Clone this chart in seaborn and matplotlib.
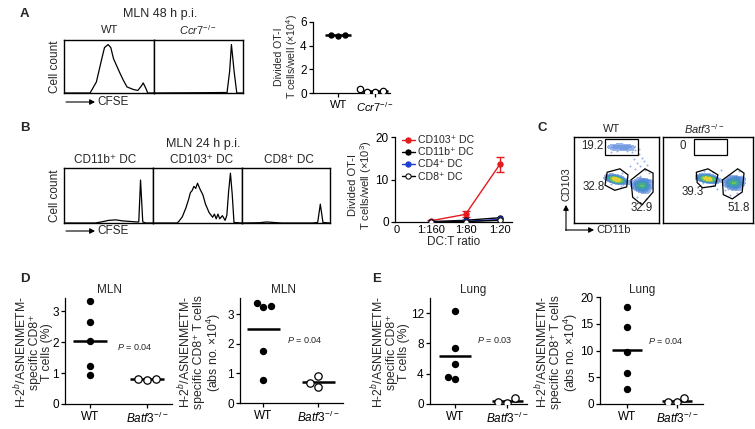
import numpy as np
import pandas as pd
import seaborn as sns
import matplotlib
matplotlib.use("Agg")
import matplotlib.pyplot as plt
from matplotlib.colors import LinearSegmentedColormap
from matplotlib.patches import Polygon, Rectangle

sns.set_style("ticks")
plt.rcParams["font.family"] = ["Liberation Sans", "DejaVu Sans"]
plt.rcParams.update({
    "mathtext.fontset": "custom", "mathtext.rm": "Liberation Sans",
    "mathtext.it": "Liberation Sans:italic", "mathtext.bf": "Liberation Sans:bold",
    "axes.linewidth": 0.9, "xtick.major.width": 0.9, "ytick.major.width": 0.9,
    "xtick.major.size": 3, "ytick.major.size": 3, "xtick.labelsize": 8.5,
    "ytick.labelsize": 8.5, "xtick.major.pad": 2, "ytick.major.pad": 1.5,
    "axes.edgecolor": "black", "xtick.color": "black", "ytick.color": "black",
})

# ---------------- DATA ----------------
# Panel A histograms (CFSE, normalised channel / count)
a_wt_x = [0.0, 0.29, 0.36, 0.42, 0.45, 0.49, 0.52, 0.55, 0.58, 0.62, 0.66, 0.70, 0.77, 0.82, 0.86, 0.88, 0.91, 0.93, 1.0]
a_wt_y = [0, 0, 0.22, 0.68, 0.90, 0.96, 0.90, 0.68, 0.56, 0.40, 0.25, 0.12, 0.07, 0.05, 0.14, 0.20, 0.09, 0, 0]
a_ko_x = [0.0, 0.5, 0.8, 0.82, 0.85, 0.87, 0.90, 0.93, 1.0]
a_ko_y = [0, 0.005, 0.01, 0, 0.43, 0.96, 0.43, 0, 0]

# Panel A dot plot
a_groups = ["WT", "Ccr7"]
a_wt_vals = [4.9, 4.85, 4.9]
a_ko_vals = [0.15, 0.05, 0.05, 0.3]

# Panel B histograms
b_cd11b_x = [0, 0.35, 0.42, 0.5, 0.58, 0.66, 0.74, 0.82, 0.84, 0.86, 0.885, 0.92, 1.0]
b_cd11b_y = [0, 0, 0.02, 0.05, 0.06, 0.04, 0.03, 0.02, 0.02, 0.82, 0.02, 0, 0]
b_cd103_x = [0, 0.27, 0.29, 0.33, 0.37, 0.40, 0.42, 0.44, 0.46, 0.48, 0.50, 0.53, 0.56, 0.59, 0.63,
             0.67, 0.69, 0.71, 0.73, 0.75, 0.78, 0.81, 0.83, 0.85, 0.87, 0.89, 0.91, 1.0]
b_cd103_y = [0, 0, 0.03, 0.12, 0.29, 0.45, 0.58, 0.62, 0.70, 0.66, 0.76, 0.64, 0.54, 0.36, 0.20,
             0.11, 0.17, 0.08, 0.17, 0.08, 0.14, 0.05, 0.15, 0.61, 0.95, 0.55, 0.01, 0]
b_cd8_x = [0, 0.2, 0.28, 0.36, 0.45, 0.8, 0.86, 0.89, 0.92, 1.0]
b_cd8_y = [0, 0.005, 0.02, 0.01, 0, 0, 0.01, 0.36, 0.01, 0]

# Panel B line chart
ratio_labels = ["0", "1:160", "1:80", "1:20"]
ratio_pos = [1, 2, 3]
cd103_vals = [0.3, 1.8, 13.6]
cd103_err = [0.2, 0.7, 1.8]
cd11b_vals = [0.1, 0.4, 1.0]
cd4_vals = [0.0, 0.15, 0.6]
cd8_vals = [0.0, 0.1, 0.4]

# Panel C gates (fraction of plot) and frequencies
c_wt_rect = (0.365, 0.79, 0.388, 0.187)
c_wt_poly1 = [(0.39, 0.59), (0.54, 0.63), (0.635, 0.56), (0.62, 0.42), (0.48, 0.38), (0.365, 0.44)]
c_wt_poly2 = [(0.67, 0.50), (0.835, 0.63), (0.93, 0.58), (0.93, 0.36), (0.80, 0.21), (0.69, 0.30)]
c_ko_rect = (0.344, 0.79, 0.367, 0.187)
c_ko_poly1 = [(0.37, 0.59), (0.50, 0.63), (0.61, 0.56), (0.58, 0.43), (0.44, 0.41), (0.38, 0.47)]
c_ko_poly2 = [(0.66, 0.50), (0.83, 0.63), (0.90, 0.58), (0.88, 0.36), (0.77, 0.28), (0.67, 0.33)]
c_wt_freq = ["19.2", "32.8", "32.9"]
c_ko_freq = ["0", "39.3", "51.8"]
# dense events (cores)
c_wt_core_x = [0.47, 0.49, 0.51, 0.50, 0.48, 0.52, 0.50, 0.46, 0.53, 0.49, 0.51, 0.50,
               0.79, 0.81, 0.80, 0.82, 0.78, 0.80, 0.83, 0.79, 0.81, 0.77, 0.84, 0.80]
c_wt_core_y = [0.51, 0.50, 0.52, 0.49, 0.53, 0.51, 0.47, 0.49, 0.50, 0.52, 0.48, 0.55,
               0.43, 0.45, 0.41, 0.46, 0.44, 0.47, 0.49, 0.39, 0.43, 0.40, 0.50, 0.36]
c_wt_top_x = [0.44, 0.48, 0.52, 0.56, 0.60, 0.64, 0.68, 0.50, 0.54, 0.58, 0.62, 0.46, 0.66]
c_wt_top_y = [0.88, 0.87, 0.89, 0.88, 0.87, 0.89, 0.88, 0.85, 0.91, 0.86, 0.90, 0.90, 0.85]
# diffuse events
c_wt_sparse_x = [0.42, 0.45, 0.48, 0.51, 0.54, 0.57, 0.60, 0.63, 0.66, 0.69, 0.44, 0.50, 0.56, 0.62,
                 0.68, 0.72, 0.76, 0.80, 0.70, 0.74, 0.78, 0.82, 0.86, 0.66, 0.72, 0.84, 0.88, 0.76,
                 0.41, 0.44, 0.56, 0.58, 0.43, 0.55, 0.72, 0.75, 0.86, 0.88, 0.90, 0.74, 0.85, 0.78]
c_wt_sparse_y = [0.88, 0.86, 0.90, 0.87, 0.89, 0.86, 0.88, 0.91, 0.87, 0.89, 0.83, 0.84, 0.92, 0.84,
                 0.82, 0.85, 0.80, 0.76, 0.74, 0.70, 0.66, 0.72, 0.68, 0.66, 0.63, 0.62, 0.58, 0.86,
                 0.52, 0.45, 0.58, 0.46, 0.57, 0.43, 0.42, 0.52, 0.36, 0.44, 0.50, 0.30, 0.28, 0.55]
c_ko_core_x = [0.47, 0.49, 0.51, 0.50, 0.48, 0.52, 0.50, 0.46, 0.53, 0.49, 0.51, 0.50,
               0.78, 0.80, 0.79, 0.81, 0.77, 0.79, 0.82, 0.78, 0.80, 0.76, 0.83, 0.79]
c_ko_core_y = [0.52, 0.51, 0.53, 0.50, 0.54, 0.52, 0.48, 0.50, 0.51, 0.53, 0.49, 0.56,
               0.46, 0.48, 0.44, 0.49, 0.47, 0.50, 0.52, 0.42, 0.46, 0.43, 0.53, 0.39]
c_ko_sparse_x = [0.41, 0.44, 0.56, 0.58, 0.43, 0.55, 0.60, 0.64, 0.72, 0.75, 0.86, 0.87, 0.74,
                 0.85, 0.70, 0.88, 0.45, 0.53, 0.82, 0.69]
c_ko_sparse_y = [0.53, 0.46, 0.59, 0.47, 0.58, 0.44, 0.40, 0.62, 0.40, 0.55, 0.40, 0.55, 0.33,
                 0.60, 0.45, 0.47, 0.60, 0.43, 0.35, 0.38]

# Panels D and E
groups = ["WT", "Batf3"]
d1_wt = [3.33, 2.66, 2.04, 1.21, 0.93]
d1_ko = [0.82, 0.79, 0.82]
d2_wt = [3.37, 3.24, 3.26, 1.75, 0.78]
d2_ko = [0.92, 0.54, 0.67]
e1_wt = [12.3, 7.36, 5.3, 3.26, 3.6]
e1_ko = [0.75, 0.18, 0.3]
e2_wt = [18.1, 14.3, 9.8, 5.75, 2.8]
e2_ko = [1.2, 0.3, 0.45]

# ---------------- LAYOUT HELPERS ----------------
W, H = 755, 429
fig = plt.figure(figsize=(W / 100, H / 100), dpi=100)


def box(x0, y0, x1, y1):
    return [x0 / W, 1 - y1 / H, (x1 - x0) / W, (y1 - y0) / H]


def txt(x, y, s, **kw):
    kw.setdefault("fontsize", 8.5)
    kw.setdefault("ha", "center")
    kw.setdefault("va", "center")
    fig.text(x / W, 1 - y / H, s, **kw)


def arrow(x0, y0, x1, y1):
    fig.add_artist(matplotlib.patches.FancyArrowPatch(
        (x0 / W, 1 - y0 / H), (x1 / W, 1 - y1 / H), transform=fig.transFigure,
        arrowstyle="-|>,head_length=3,head_width=1.6", lw=0.8, color="black",
        shrinkA=0, shrinkB=0))


def hist_ax(rect, xs, ys):
    ax = fig.add_axes(box(*rect))
    sns.lineplot(x=xs, y=ys, ax=ax, color="black", lw=0.9, sort=False, estimator=None)
    ax.set_xlim(0, 1)
    ax.set_ylim(0, 1.05)
    ax.set_xticks([])
    ax.set_yticks([])
    ax.set_xlabel("")
    ax.set_ylabel("")
    for s in ax.spines.values():
        s.set_visible(True)
        s.set_linewidth(1.0)
    return ax


def dot_ax(rect, wt, ko, labels, ylim, yticks, xlim, half=0.3, size=5.3):
    ax = fig.add_axes(box(*rect))
    df_wt = pd.DataFrame({"g": labels[0], "v": wt})
    df_ko = pd.DataFrame({"g": labels[1], "v": ko})
    sns.swarmplot(data=df_wt, x="g", y="v", order=labels, color="black", size=size, ax=ax)
    sns.swarmplot(data=df_ko, x="g", y="v", order=labels, color="white", edgecolor="black",
                  linewidth=0.9, size=size, ax=ax)
    for i, vals in enumerate([wt, ko]):
        ax.hlines(np.mean(vals), i - half, i + half, color="black", lw=1.8, zorder=1)
    ax.set_ylim(*ylim)
    ax.set_yticks(yticks)
    ax.set_xlim(*xlim)
    ax.set_xlabel("")
    ax.set_ylabel("")
    sns.despine(ax=ax)
    return ax


# ---------------- PANEL A ----------------
txt(20, 14, "A", fontsize=9.5, fontweight="bold", ha="left")
txt(160, 14, "MLN 48 h p.i.", fontsize=9)
txt(110, 30, "WT", fontsize=8)
txt(198, 30, r"$\mathit{Ccr7}^{-/-}$", fontsize=8)
hist_ax((64, 40, 154, 93), a_wt_x, a_wt_y)
hist_ax((154, 40, 243, 93), a_ko_x, a_ko_y)
txt(55, 67, "Cell count", rotation=90)
arrow(66, 102, 95, 102)
txt(97, 102, "CFSE", ha="left")

axA = dot_ax((313, 22, 390, 93), a_wt_vals, a_ko_vals, a_groups, (0, 6), [0, 2, 4, 6],
             (-0.68, 1.4), half=0.35, size=4.6)
axA.set_xticks([0, 1])
axA.set_xticklabels(["WT", r"$\mathit{Ccr7}^{-/-}$"], fontsize=8)
txt(287, 57, "Divided OT-I\nT cells/well (×10$^4$)", rotation=90, fontsize=7.6, linespacing=1.05)

# ---------------- PANEL B ----------------
txt(20, 128, "B", fontsize=9.5, fontweight="bold", ha="left")
txt(203, 144, "MLN 24 h p.i.", fontsize=9)
txt(105, 160, "CD11b⁺ DC")
txt(202, 160, "CD103⁺ DC")
txt(289, 160, "CD8⁺ DC")
hist_ax((64, 168, 153, 223), b_cd11b_x, b_cd11b_y)
hist_ax((153, 168, 242, 223), b_cd103_x, b_cd103_y)
hist_ax((242, 168, 330, 223), b_cd8_x, b_cd8_y)
txt(55, 196, "Cell count", rotation=90)
arrow(66, 231, 95, 231)
txt(97, 231, "CFSE", ha="left")

axB = fig.add_axes(box(395, 137, 512, 222))
series = [("CD103⁺ DC", cd103_vals, "#e41a1c", "#e41a1c"),
          ("CD11b⁺ DC", cd11b_vals, "black", "black"),
          ("CD4⁺ DC", cd4_vals, "#1f3fd0", "#1f3fd0"),
          ("CD8⁺ DC", cd8_vals, "black", "white")]
for lab, vals, col, fc in series:
    sns.lineplot(x=ratio_pos, y=vals, ax=axB, color=col, marker="o", markersize=3.8,
                 markerfacecolor=fc, markeredgecolor=col, lw=1.0, label=lab, zorder=3)
axB.errorbar(ratio_pos, cd103_vals, yerr=cd103_err, fmt="none", ecolor="#e41a1c",
             elinewidth=1.0, capsize=3, capthick=1.0, zorder=2)
axB.set_xlim(-0.05, 3.35)
axB.set_ylim(0, 20)
axB.set_yticks([0, 10, 20])
axB.set_xticks(range(len(ratio_labels)))
axB.set_xticklabels(ratio_labels, fontsize=8)
axB.tick_params(axis="x", length=0)
axB.set_xlabel("DC:T ratio", fontsize=8.5, labelpad=1)
axB.set_ylabel("")
sns.despine(ax=axB)
axB.legend(loc="upper left", bbox_to_anchor=(0.02, 1.07), frameon=False, fontsize=7.6,
           handlelength=1.3, handletextpad=0.3, labelspacing=0.2, borderaxespad=0)
txt(361, 185, "Divided OT-I\nT cells/well (×10$^3$)", rotation=90, fontsize=8, linespacing=1.05)

# ---------------- PANEL C ----------------
txt(538, 128, "C", fontsize=9.5, fontweight="bold", ha="left")
txt(612, 129, "WT", fontsize=8)
txt(704, 129, r"$\mathit{Batf3}^{-/-}$", fontsize=8)
facs_cmap = LinearSegmentedColormap.from_list(
    "facs", ["#a8c2ee", "#6f98e0", "#4a86d0", "#3f9ab8", "#45ad8a", "#62bd5c", "#9ccd46",
             "#e0d43a", "#f0a828"])
top_cmap = LinearSegmentedColormap.from_list("top", ["#b4cbf0", "#86a8e6", "#6b94dc"])


def facs_ax(rect, cx, cy, sx, sy, tx, ty, rect_gate, polys, freqs, freq_pos):
    ax = fig.add_axes(box(*rect))
    ax.scatter(sx, sy, s=2.0, color="#93b2ea", linewidths=0, zorder=1)
    if tx:
        sns.kdeplot(x=tx, y=ty, ax=ax, fill=True, cmap=top_cmap, levels=3, thresh=0.15,
                    bw_adjust=0.9, zorder=2)
    sns.kdeplot(x=cx, y=cy, ax=ax, fill=True, cmap=facs_cmap, levels=9, thresh=0.1,
                bw_adjust=0.7, zorder=2)
    ax.add_patch(Rectangle(rect_gate[:2], rect_gate[2], rect_gate[3], fill=False,
                           lw=0.9, ec="black", zorder=4))
    for p in polys:
        ax.add_patch(Polygon(p, closed=True, fill=False, lw=0.9, ec="black", zorder=4))
    for f, (px, py, ha) in zip(freqs, freq_pos):
        ax.text(px, py, f, fontsize=8.3, ha=ha, va="center", zorder=5)
    ax.set_xlim(0, 1)
    ax.set_ylim(0, 1)
    ax.set_xticks([])
    ax.set_yticks([])
    ax.set_xlabel("")
    ax.set_ylabel("")
    for s in ax.spines.values():
        s.set_visible(True)
        s.set_linewidth(1.0)
    return ax


facs_ax((574, 137, 659, 223), c_wt_core_x, c_wt_core_y, c_wt_sparse_x, c_wt_sparse_y,
        c_wt_top_x, c_wt_top_y, c_wt_rect, [c_wt_poly1, c_wt_poly2], c_wt_freq,
        [(0.08, 0.89, "left"), (0.10, 0.42, "left"), (0.93, 0.18, "right")])
facs_ax((663, 137, 753, 223), c_ko_core_x, c_ko_core_y, c_ko_sparse_x, c_ko_sparse_y,
        [], [], c_ko_rect, [c_ko_poly1, c_ko_poly2], c_ko_freq,
        [(0.18, 0.89, "left"), (0.21, 0.36, "left"), (0.97, 0.18, "right")])
arrow(566, 230.5, 566, 205)
arrow(565.6, 230, 594, 230)
txt(566, 184, "CD103", rotation=90, fontsize=7.8)
txt(596, 230, "CD11b", ha="left", fontsize=8.2)

# ---------------- PANEL D ----------------
txt(20, 279, "D", fontsize=9.5, fontweight="bold", ha="left")
ko_lab = r"$\mathit{Batf3}^{-/-}$"
ylab_pct = "H-2$^b$/ASNENMETM-\nspecific CD8⁺\nT cells (%)"
ylab_abs = "H-2$^b$/ASNENMETM-\nspecific CD8⁺ T cells\n(abs no. ×10$^4$)"
ylab_kw = dict(rotation=90, fontsize=8.8, linespacing=0.95)
axD1 = dot_ax((65, 298, 172, 404), d1_wt, d1_ko, groups, (0, 3.42), [0, 1, 2, 3], (-0.44, 1.44))
axD1.set_xticks([0, 1])
axD1.set_xticklabels(["WT", ko_lab])
txt(110, 290, "MLN")
txt(117, 347, r"$P$ = 0.04", ha="left", fontsize=6.5)
txt(33, 352, ylab_pct, **ylab_kw)

axD2 = dot_ax((240, 298, 343, 403), d2_wt, d2_ko, groups, (0, 3.54), [0, 1, 2, 3], (-0.42, 1.45))
axD2.set_xticks([0, 1])
axD2.set_xticklabels(["WT", ko_lab])
txt(283, 290, "MLN")
txt(287, 340, r"$P$ = 0.04", ha="left", fontsize=6.5)
txt(200, 352, ylab_abs, **ylab_kw)

# ---------------- PANEL E ----------------
txt(372, 279, "E", fontsize=9.5, fontweight="bold", ha="left")
axE1 = dot_ax((430, 298, 527, 404), e1_wt, e1_ko, groups, (0, 14), [0, 4, 8, 12], (-0.48, 1.38))
axE1.set_xticks([0, 1])
axE1.set_xticklabels(["WT", ko_lab])
txt(473, 290, "Lung")
txt(477, 340, r"$P$ = 0.03", ha="left", fontsize=6.5)
txt(390, 352, ylab_pct, **ylab_kw)

axE2 = dot_ax((600, 297, 703, 404), e2_wt, e2_ko, groups, (0, 20), [0, 5, 10, 15, 20], (-0.54, 1.52))
axE2.set_xticks([0, 1])
axE2.set_xticklabels(["WT", ko_lab])
txt(642, 290, "Lung")
txt(648, 341, r"$P$ = 0.04", ha="left", fontsize=6.5)
txt(557, 352, ylab_abs, **ylab_kw)

fig.savefig("out.png", dpi=100)
